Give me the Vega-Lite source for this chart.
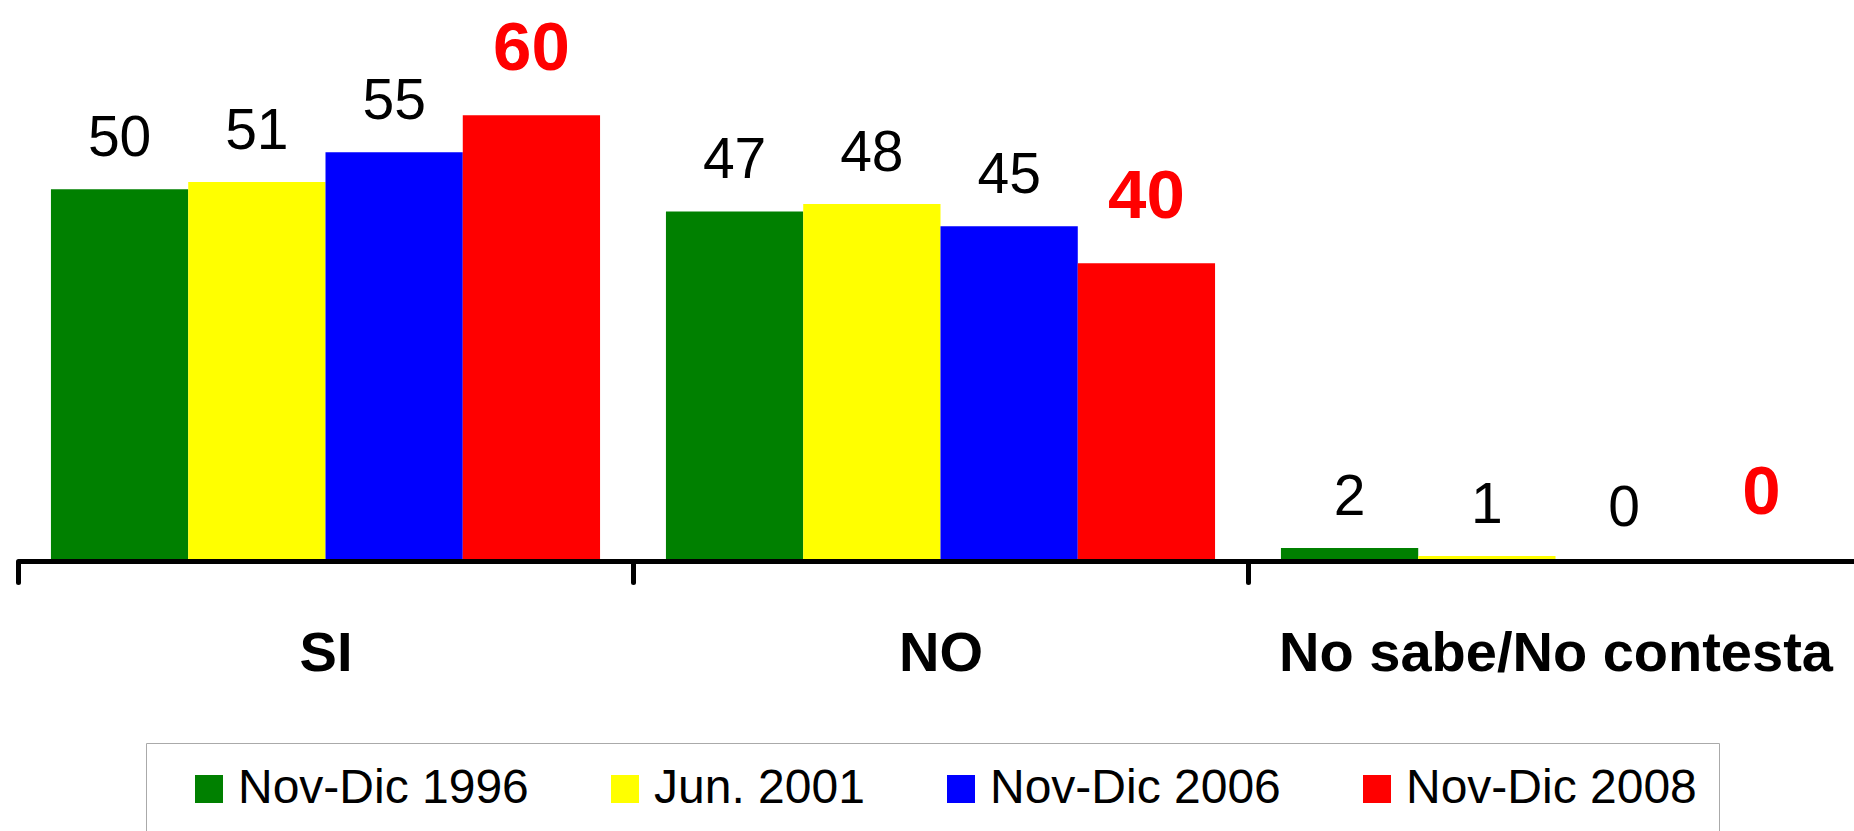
{
  "$schema": "https://vega.github.io/schema/vega-lite/v6.json",
  "autosize": {"type": "none"},
  "padding": {"left": 18, "top": 0, "right": 0, "bottom": 272},
  "width": 1836,
  "height": 559,
  "background": "white",
  "config": {
    "view": {"stroke": null},
    "font": "Liberation Sans"
  },
  "data": {
    "values": [
      {"cat": "SI", "series": "Nov-Dic 1996", "value": 50, "label": "50"},
      {"cat": "SI", "series": "Jun. 2001", "value": 51, "label": "51"},
      {"cat": "SI", "series": "Nov-Dic 2006", "value": 55, "label": "55"},
      {"cat": "SI", "series": "Nov-Dic 2008", "value": 60, "label": "60"},
      {"cat": "NO", "series": "Nov-Dic 1996", "value": 47, "label": "47"},
      {"cat": "NO", "series": "Jun. 2001", "value": 48, "label": "48"},
      {"cat": "NO", "series": "Nov-Dic 2006", "value": 45, "label": "45"},
      {"cat": "NO", "series": "Nov-Dic 2008", "value": 40, "label": "40"},
      {"cat": "No sabe/No contesta", "series": "Nov-Dic 1996", "value": 1.5, "label": "2"},
      {"cat": "No sabe/No contesta", "series": "Jun. 2001", "value": 0.4, "label": "1"},
      {"cat": "No sabe/No contesta", "series": "Nov-Dic 2006", "value": 0, "label": "0"},
      {"cat": "No sabe/No contesta", "series": "Nov-Dic 2008", "value": 0, "label": "0"}
    ]
  },
  "encoding": {
    "x": {
      "field": "cat",
      "type": "nominal",
      "sort": ["SI", "NO", "No sabe/No contesta"],
      "scale": {"paddingInner": 0, "paddingOuter": 0, "range": [0, 1845]},
      "axis": {
        "title": null,
        "labelAngle": 0,
        "labelFont": "Liberation Sans",
        "labelFontSize": 56,
        "labelFontWeight": "bold",
        "labelColor": "black",
        "labelBaseline": "top",
        "labelPadding": 44,
        "labelLimit": 0,
        "tickBand": "extent",
        "tickSize": 21,
        "tickWidth": 5,
        "tickCap": "round",
        "tickColor": "black",
        "domainColor": "black",
        "domainWidth": 5,
        "offset": 2,
        "grid": false
      }
    },
    "xOffset": {
      "field": "series",
      "type": "nominal",
      "sort": ["Nov-Dic 1996", "Jun. 2001", "Nov-Dic 2006", "Nov-Dic 2008"],
      "scale": {"paddingInner": 0, "paddingOuter": 0.24}
    },
    "y": {
      "field": "value",
      "type": "quantitative",
      "scale": {"domain": [0, 75.6], "nice": false, "zero": true},
      "axis": null
    }
  },
  "layer": [
    {
      "mark": {"type": "bar"},
      "encoding": {
        "color": {
          "field": "series",
          "type": "nominal",
          "scale": {
            "domain": ["Nov-Dic 1996", "Jun. 2001", "Nov-Dic 2006", "Nov-Dic 2008"],
            "range": ["#008000", "#FFFF00", "#0000FF", "#FF0000"]
          },
          "legend": {
            "title": null,
            "orient": "none",
            "legendX": 128,
            "legendY": 743,
            "direction": "horizontal",
            "columns": 4,
            "columnPadding": 55,
            "padding": 22,
            "fillColor": "white",
            "strokeColor": "#aaaaaa",
            "symbolType": "square",
            "symbolSize": 784,
            "symbolStrokeWidth": 0,
            "symbolOffset": 17,
            "labelOffset": 5,
            "labelFont": "Liberation Sans",
            "labelFontSize": 48,
            "labelColor": "black",
            "labelLimit": 0
          }
        }
      }
    },
    {
      "transform": [{"filter": "datum.series != 'Nov-Dic 2008'"}],
      "mark": {"type": "text", "baseline": "alphabetic", "dy": -33, "fontSize": 57, "font": "Liberation Sans", "color": "black"},
      "encoding": {"text": {"field": "label"}}
    },
    {
      "transform": [{"filter": "datum.series == 'Nov-Dic 2008'"}],
      "mark": {"type": "text", "baseline": "alphabetic", "dy": -45, "fontSize": 69, "fontWeight": "bold", "font": "Liberation Sans", "color": "#FF0000"},
      "encoding": {"text": {"field": "label"}}
    }
  ]
}
